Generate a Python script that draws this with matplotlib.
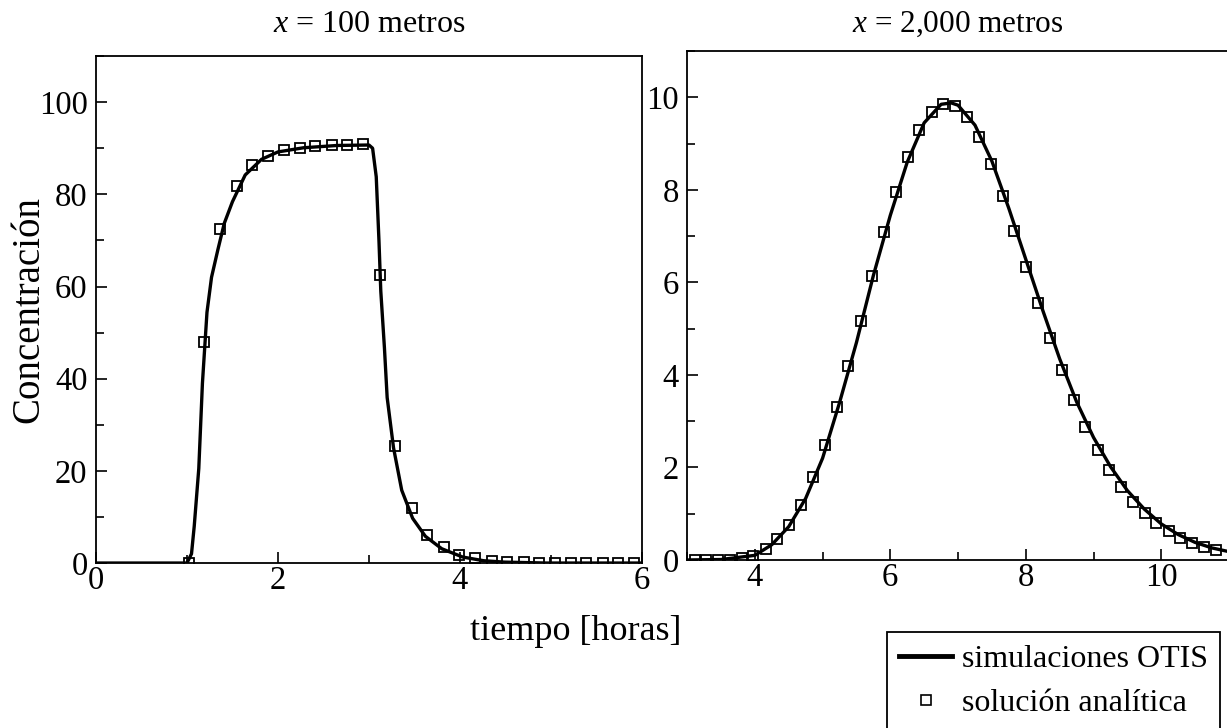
import matplotlib
matplotlib.use('Agg')
import matplotlib.pyplot as plt
from matplotlib.lines import Line2D
from matplotlib.ticker import MultipleLocator

plt.rcParams['font.family'] = ['Liberation Serif', 'DejaVu Serif']
plt.rcParams['mathtext.fontset'] = 'custom'
plt.rcParams['mathtext.rm'] = 'Liberation Serif'
plt.rcParams['mathtext.it'] = 'Liberation Serif:italic'

# x = 100 m: OTIS simulation (line)
otis_100_t = [0.0, 1.0, 1.05, 1.08, 1.13, 1.17, 1.22, 1.27, 1.34, 1.41, 1.50, 1.64,
              1.82, 2.00, 2.28, 2.65, 3.00, 3.04, 3.08, 3.11, 3.13, 3.17, 3.20,
              3.27, 3.36, 3.48, 3.62, 3.80, 4.03, 4.26, 4.49, 4.95, 6.0]
otis_100_c = [0.0, 0.0, 2.0, 8.0, 20.5, 39.0, 54.4, 62.0, 68.0, 73.7, 78.4, 84.2,
              87.6, 89.2, 90.1, 90.6, 90.7, 90.0, 83.8, 69.9, 59.0, 46.7, 35.9,
              25.0, 15.8, 9.7, 5.8, 3.1, 1.3, 0.5, 0.2, 0.0, 0.0]

# x = 100 m: analytical solution (squares)
anal_100_t = [1.02, 1.19, 1.36, 1.55, 1.72, 1.89, 2.07, 2.24, 2.41, 2.59, 2.76,
              2.94, 3.12, 3.29, 3.47, 3.64, 3.82, 3.99, 4.17, 4.35, 4.52, 4.70,
              4.87, 5.04, 5.22, 5.39, 5.57, 5.74, 5.91]
anal_100_c = [0.0, 47.9, 72.4, 81.9, 86.3, 88.4, 89.6, 90.1, 90.5, 90.7, 90.8,
              91.0, 62.6, 25.5, 11.9, 6.1, 3.5, 1.7, 1.0, 0.5, 0.3, 0.15,
              0.1, 0.05, 0.03, 0.02, 0.01, 0.0, 0.0]

# x = 2,000 m: OTIS simulation (line)
otis_2000_t = [3.0, 3.5, 4.0, 4.25, 4.5, 4.75, 5.0, 5.25, 5.5, 5.75, 6.0, 6.25,
               6.5, 6.75, 6.9, 7.0, 7.25, 7.5, 7.75, 8.0, 8.25, 8.5, 8.75, 9.0,
               9.25, 9.5, 9.75, 10.0, 10.25, 10.5, 10.75, 11.0]
otis_2000_c = [0.0, 0.01, 0.1, 0.33, 0.72, 1.33, 2.2, 3.4, 4.7, 6.15, 7.45, 8.6,
               9.45, 9.85, 9.88, 9.83, 9.4, 8.62, 7.6, 6.5, 5.4, 4.35, 3.42, 2.65,
               2.02, 1.5, 1.1, 0.78, 0.55, 0.38, 0.26, 0.18]

# x = 2,000 m: analytical solution (squares)
anal_2000_t = [3.11, 3.28, 3.46, 3.63, 3.81, 3.98, 4.16, 4.33, 4.51, 4.68, 4.86,
               5.03, 5.21, 5.38, 5.56, 5.73, 5.91, 6.08, 6.26, 6.43, 6.61, 6.78,
               6.96, 7.13, 7.31, 7.48, 7.66, 7.83, 8.01, 8.18, 8.36, 8.53, 8.71,
               8.88, 9.06, 9.23, 9.41, 9.58, 9.76, 9.93, 10.11, 10.28, 10.46,
               10.63, 10.81]
anal_2000_c = [0.0, 0.0, 0.0, 0.01, 0.04, 0.09, 0.24, 0.45, 0.76, 1.19, 1.79,
               2.48, 3.31, 4.20, 5.16, 6.14, 7.09, 7.96, 8.71, 9.30, 9.68, 9.85,
               9.81, 9.58, 9.14, 8.56, 7.87, 7.12, 6.34, 5.56, 4.80, 4.10, 3.46,
               2.88, 2.38, 1.94, 1.58, 1.26, 1.01, 0.80, 0.62, 0.48, 0.37,
               0.28, 0.21]

fig = plt.figure(figsize=(12.27, 7.28), dpi=100)
ax1 = fig.add_axes([0.0782, 0.2266, 0.445, 0.6964])
ax2 = fig.add_axes([0.560, 0.2308, 0.4416, 0.699])

line_kw = dict(color='black', lw=2.4, zorder=2)
mark_kw = dict(ls='none', marker='s', ms=7.5, mfc='none', mec='black',
               mew=1.3, zorder=3)


def style_axis(ax, xlim, ylim, xmaj, ymaj):
    ax.set_xlim(*xlim)
    ax.set_ylim(*ylim)
    ax.xaxis.set_major_locator(MultipleLocator(xmaj))
    ax.xaxis.set_minor_locator(MultipleLocator(xmaj / 2))
    ax.yaxis.set_major_locator(MultipleLocator(ymaj))
    ax.yaxis.set_minor_locator(MultipleLocator(ymaj / 2))
    ax.tick_params(which='both', direction='in', top=False, right=False,
                   labelsize=23.5, width=1.2)
    ax.tick_params(axis='y', pad=6)
    ax.tick_params(axis='x', pad=2)
    ax.tick_params(which='major', length=8)
    ax.tick_params(which='minor', length=6)
    for s in ax.spines.values():
        s.set_linewidth(1.3)


ax1.plot(otis_100_t, otis_100_c, **line_kw)
ax1.plot(anal_100_t, anal_100_c, **mark_kw)
style_axis(ax1, (0, 6), (0, 110), 2, 20)
ax1.set_ylabel('Concentración', fontsize=28, labelpad=-6)
ax1.set_title(r'$x$ = 100 metros', fontsize=23, pad=17)

ax2.plot(otis_2000_t, otis_2000_c, **line_kw)
ax2.plot(anal_2000_t, anal_2000_c, **mark_kw)
style_axis(ax2, (3, 11), (0, 11), 2, 2)
ax2.set_title(r'$x$ = 2,000 metros', fontsize=22.5, pad=14)

fig.text(0.469, 0.132, 'tiempo [horas]', fontsize=26, ha='center', va='center')

handles = [Line2D([], [], color='black', lw=3.5),
           Line2D([], [], ls='none', marker='s', ms=6.5, mfc='none',
                  mec='black', mew=1.2)]
leg = fig.legend(handles, ['simulaciones OTIS', 'solución analítica'],
                 loc='upper left', bbox_to_anchor=(0.7225, 0.132),
                 fontsize=23, frameon=True, fancybox=False, framealpha=1,
                 edgecolor='black', handlelength=1.65, handletextpad=0.3,
                 borderpad=0.4, labelspacing=0.45, borderaxespad=0)
leg.get_frame().set_linewidth(1.3)

fig.savefig('out.png', dpi=100)
